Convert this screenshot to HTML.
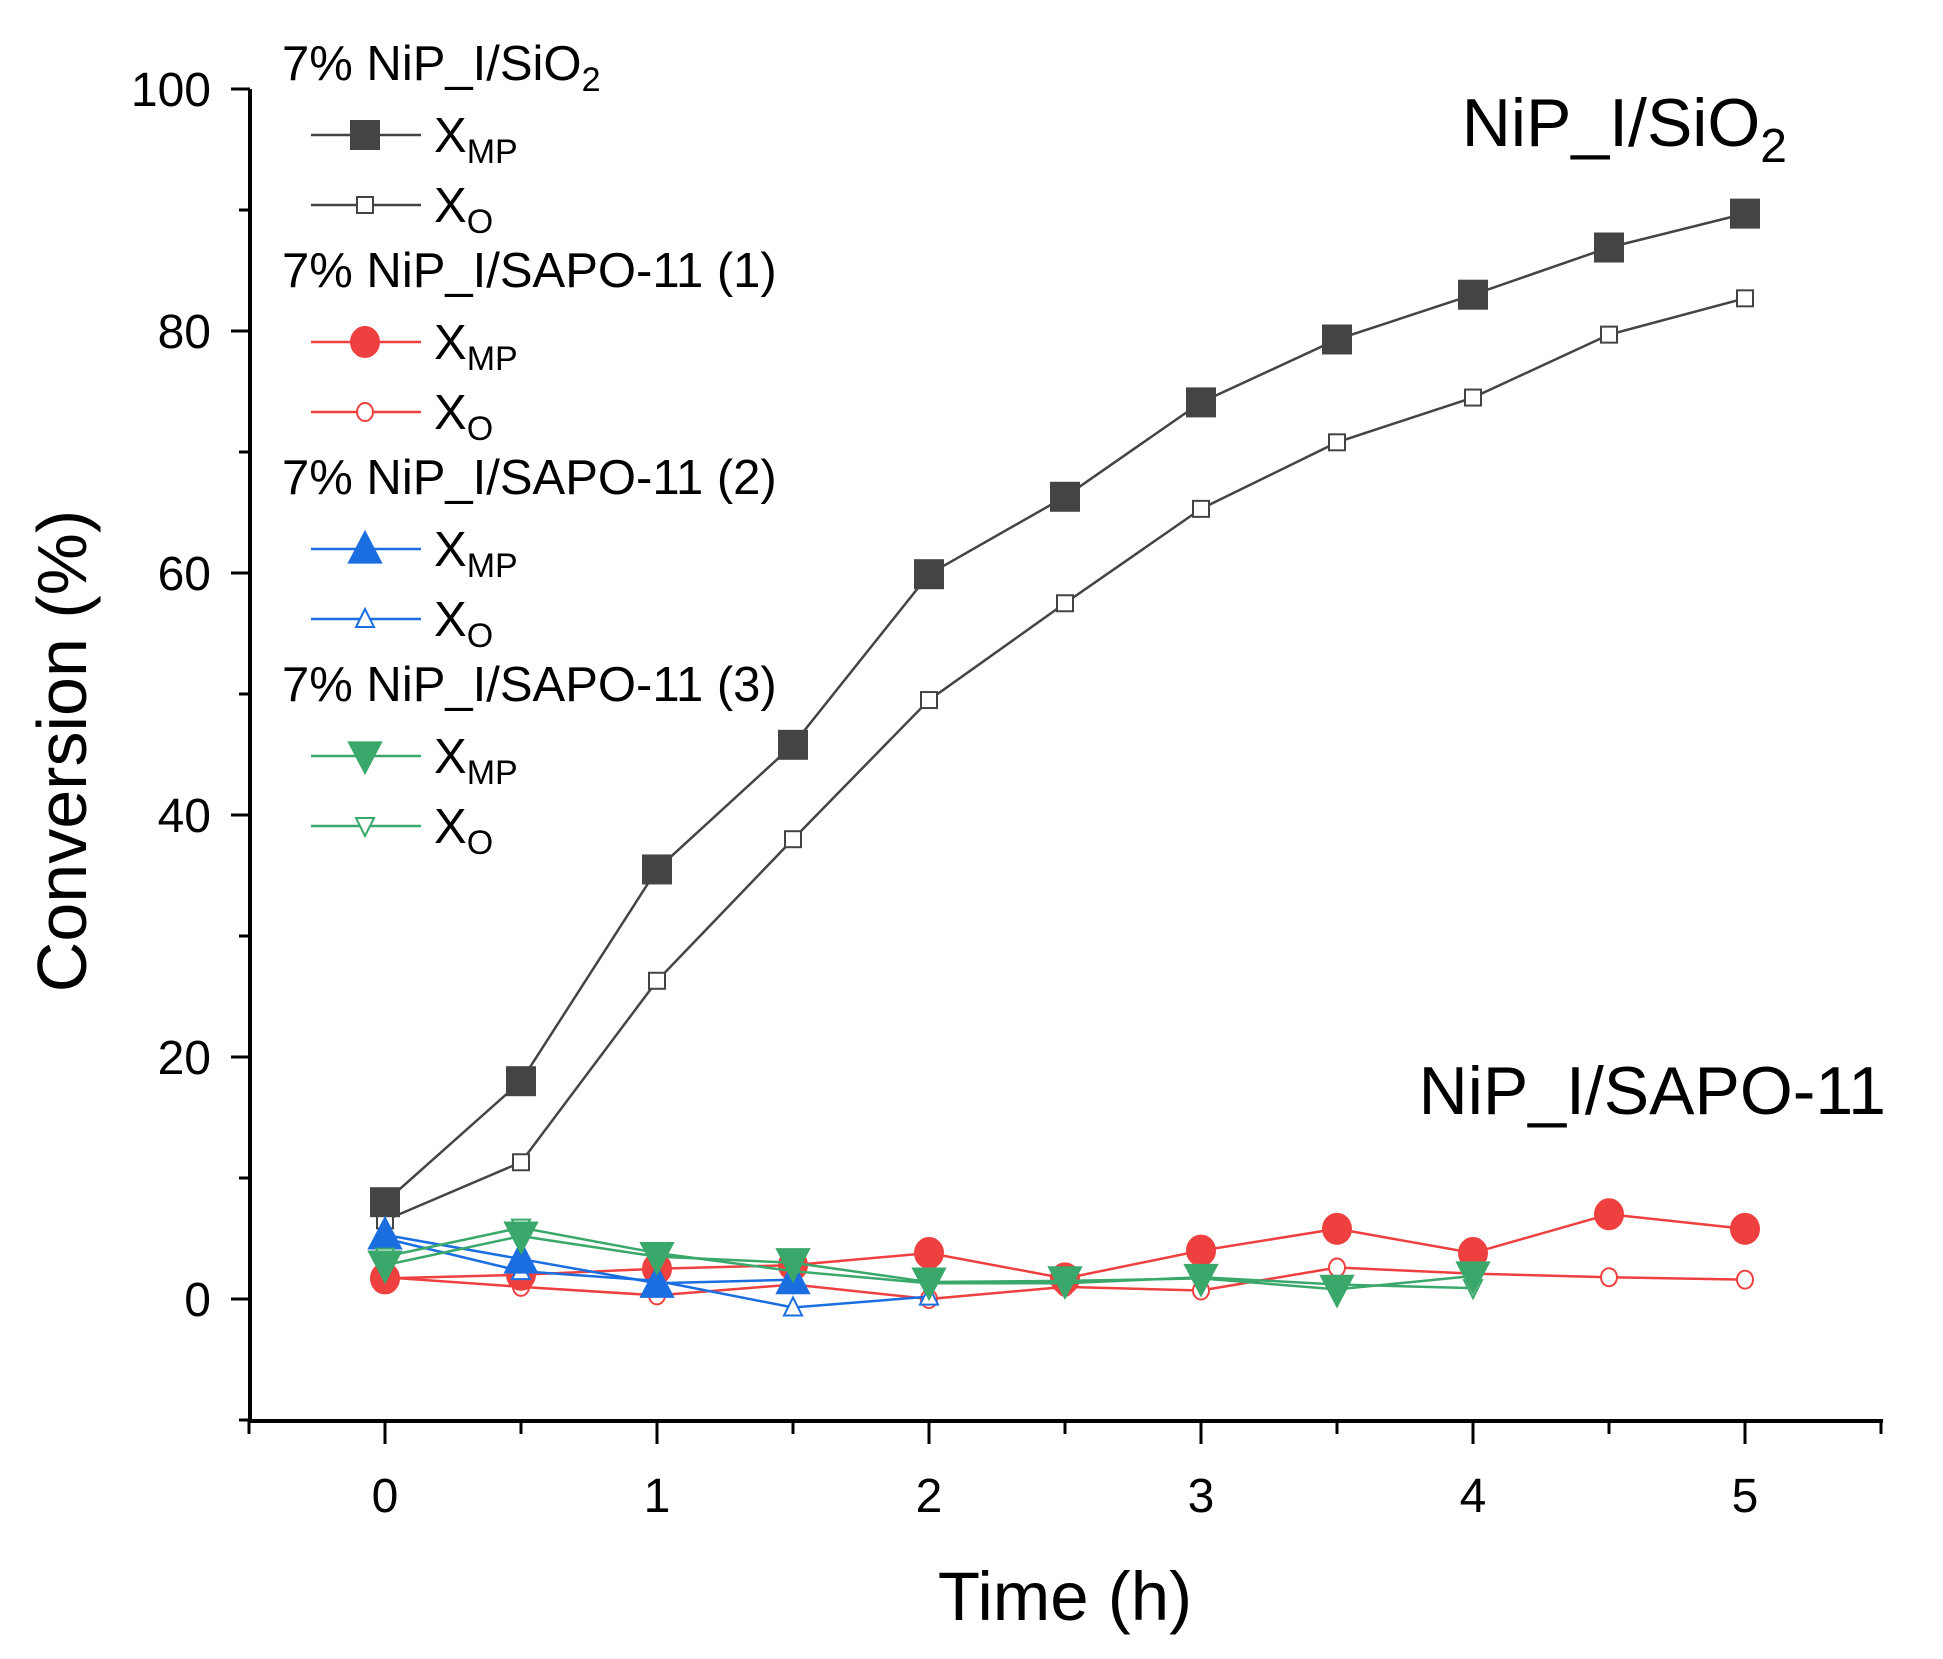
<!DOCTYPE html>
<html><head><meta charset="utf-8"><style>
html,body{margin:0;padding:0;background:#fff;}
svg{display:block;font-family:"Liberation Sans",Arial,sans-serif;}
</style></head><body>
<svg id="chart" width="1943" height="1659" viewBox="0 0 1943 1659" xmlns="http://www.w3.org/2000/svg">
<g id="axes"></g>
<g id="series"></g>
<g id="legend"></g>
<text x="0" y="0" font-size="70" text-anchor="middle" transform="translate(86,751) rotate(-90)">Conversion (%)</text>
<text x="1065" y="1620" font-size="69" text-anchor="middle">Time (h)</text>
<text x="1787" y="146" font-size="68" text-anchor="end">NiP_I/SiO<tspan font-size="48" dy="16">2</tspan></text>
<text x="1886" y="1114" font-size="68" text-anchor="end">NiP_I/SAPO-11</text>
</svg>
<script>
const NS="http://www.w3.org/2000/svg";
const times=[0,0.5,1,1.5,2,2.5,3,3.5,4,4.5,5];
const sio2Xmp=[8,18,35.5,45.8,59.9,66.3,74.1,79.3,83,86.9,89.7];
const sio2Xo=[6.5,11.3,26.3,38,49.5,57.5,65.3,70.8,74.5,79.7,82.7];
const sapo1Xmp=[1.7,2.0,2.5,2.8,3.8,1.7,4.0,5.8,3.8,7.0,5.8];
const sapo1Xo=[1.8,1.0,0.3,1.2,0,1.0,0.7,2.6,2.1,1.8,1.6];
const sapo2Xmp=[5.3,3.3,1.3,1.6];
const sapo2Xo=[5.0,2.3,1.5,-0.7,0.2];
const sapo3Xmp=[2.8,5.2,3.5,3.0,1.4,1.5,1.7,0.8,1.9];
const sapo3Xo=[3.5,5.9,3.8,2.3,1.3,1.3,1.8,1.2,0.9];
const yTicks=[0,20,40,60,80,100];
const xTicks=[0,1,2,3,4,5];

const L=250,R=1883,T=89,B=1421;
function xs(v){return 385+v*(1745-385)/5;}
function ys(v){return 1299-v*(1299-89)/100;}
function mk(tag,attrs,parent){const e=document.createElementNS(NS,tag);for(const k in attrs)e.setAttribute(k,attrs[k]);parent.appendChild(e);return e;}

const ax=document.getElementById('axes');
let e=mk('line',{x1:L,y1:T,x2:L,y2:B+2,stroke:'#000','stroke-width':4},ax);


e=mk('line',{x1:L-2,y1:B,x2:R,y2:B,stroke:'#000','stroke-width':4},ax);


for(let v=-10;v<=100;v+=10){
  const major=v%20===0;
  e=mk('line',{x1:L-(major?19:11),y1:ys(v),x2:L,y2:ys(v),stroke:'#000','stroke-width':3},ax);
  
  
}
yTicks.forEach(v=>{
  const t=mk('text',{x:211,y:ys(v)+17,'font-size':48,'text-anchor':'end'},ax);t.textContent=v;
  
  
});
for(let v=-0.5;v<=5.5;v+=0.5){
  const major=Math.abs(v-Math.round(v))<1e-9;
  e=mk('line',{x1:xs(v),y1:B,x2:xs(v),y2:B+(major?23:13),stroke:'#000','stroke-width':3},ax);
  
  
}
xTicks.forEach(v=>{
  const t=mk('text',{x:xs(v),y:1512,'font-size':48,'text-anchor':'middle'},ax);t.textContent=v;
  
  
});

function marker(p,shape,filled,color,x,y,big){
  const fill=filled?color:'#fff';
  let m;
  const s=big?14:8;
  if(shape==='sq'){m=mk('rect',{x:x-s,y:y-s,width:2*s,height:2*s,fill:fill,stroke:color,'stroke-width':2},p);}
  else if(shape==='ci'){m=mk('ellipse',{cx:x,cy:y,rx:big?14:8,ry:big?15:9,fill:fill,stroke:color,'stroke-width':2},p);}
  else if(shape==='up'){const h=big?17:10,w=big?16:9;m=mk('polygon',{points:`${x},${y-h} ${x-w},${y+h*0.8} ${x+w},${y+h*0.8}`,fill:fill,stroke:color,'stroke-width':2},p);}
  else {const h=big?17:10,w=big?16:9;m=mk('polygon',{points:`${x},${y+h} ${x-w},${y-h*0.8} ${x+w},${y-h*0.8}`,fill:fill,stroke:color,'stroke-width':2},p);}
  return m;
}
const sg=document.getElementById('series');
const defs=[
 {name:'sio2-xo',d:sio2Xo,c:'#444',s:'sq',f:false},
 {name:'sio2-xmp',d:sio2Xmp,c:'#444',s:'sq',f:true},
 {name:'sapo1-xo',d:sapo1Xo,c:'#ef4040',s:'ci',f:false},
 {name:'sapo1-xmp',d:sapo1Xmp,c:'#ef4040',s:'ci',f:true},
 {name:'sapo2-xo',d:sapo2Xo,c:'#1a6ee0',s:'up',f:false},
 {name:'sapo2-xmp',d:sapo2Xmp,c:'#1a6ee0',s:'up',f:true},
 {name:'sapo3-xo',d:sapo3Xo,c:'#3aa86a',s:'dn',f:false},
 {name:'sapo3-xmp',d:sapo3Xmp,c:'#3aa86a',s:'dn',f:true},
];
defs.forEach(sd=>{
  const g=mk('g',{},sg);
  
  
  const pts=sd.d.map((v,i)=>xs(times[i])+','+ys(v)).join(' ');
  const pl=mk('polyline',{points:pts,fill:'none',stroke:sd.c,'stroke-width':2.5},g);
  
  
  sd.d.forEach((v,i)=>{
    const m=marker(g,sd.s,sd.f,sd.c,xs(times[i]),ys(v),sd.f);
    
    
  });
});

const lg=document.getElementById('legend');
const groups=['7% NiP_I/SiO','7% NiP_I/SAPO-11 (1)','7% NiP_I/SAPO-11 (2)','7% NiP_I/SAPO-11 (3)'];
groups.forEach((gname,gi)=>{
  const y0=63+gi*207;
  const h=mk('text',{x:282,y:y0+17,'font-size':49},lg);
  h.textContent=gname;
  if(gi===0){const ts=mk('tspan',{'font-size':34,dy:11},h);ts.textContent='2';}
  
  
  [1,0].forEach((filledFlag,ri)=>{
    const sd=defs[gi*2+filledFlag];
    const y=y0+72+ri*70;
    const ln=mk('line',{x1:311,y1:y,x2:421,y2:y,stroke:sd.c,'stroke-width':2.5},lg);
    
    
    const m=marker(lg,sd.s,sd.f,sd.c,365,y,sd.f);
    
    
    const t=mk('text',{x:434,y:y+17,'font-size':49},lg);
    t.textContent='X';
    const sub=mk('tspan',{'font-size':34,dy:11},t);sub.textContent=sd.f?'MP':'O';
    
    
  });
});
</script>
</body></html>
